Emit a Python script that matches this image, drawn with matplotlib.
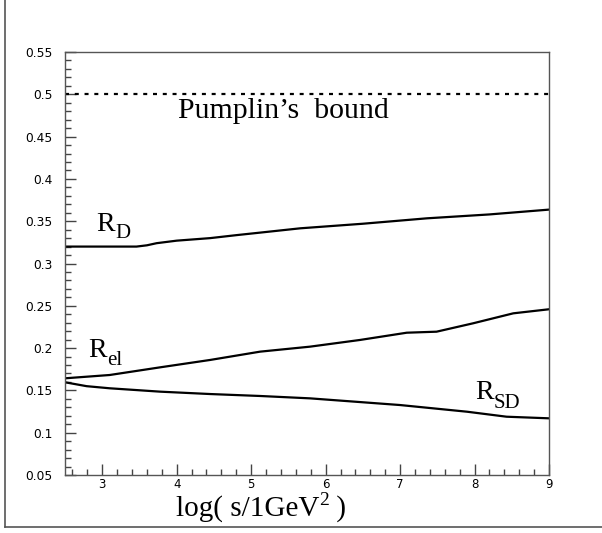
import matplotlib
matplotlib.use("Agg")
import matplotlib.pyplot as plt
from matplotlib.ticker import MultipleLocator, FixedLocator
from matplotlib.lines import Line2D

plt.rcParams['mathtext.fontset'] = 'stix'

# Data
rd_x = [2.5, 3.0, 3.46, 3.6, 3.73, 4.0, 4.45, 4.8, 5.12, 5.66, 6.5, 7.36, 8.2, 9.0]
rd_y = [0.320, 0.320, 0.320, 0.3215, 0.324, 0.327, 0.330, 0.3335, 0.3365, 0.3416, 0.347, 0.3534, 0.358, 0.3637]

rel_x = [2.5, 3.1, 3.78, 4.45, 5.12, 5.79, 6.46, 7.09, 7.49, 7.98, 8.52, 9.0]
rel_y = [0.1643, 0.1682, 0.1773, 0.186, 0.1958, 0.2017, 0.2096, 0.2182, 0.2194, 0.2293, 0.2411, 0.2459]

rsd_x = [2.5, 2.79, 3.1, 3.78, 4.45, 5.12, 5.79, 7.0, 7.9, 8.43, 9.0]
rsd_y = [0.1596, 0.155, 0.1525, 0.1485, 0.1457, 0.1434, 0.1406, 0.1327, 0.1248, 0.1189, 0.117]

bound_value = 0.5
x_range = [2.5, 9.0]
y_range = [0.05, 0.55]
y_ticks = [0.05, 0.1, 0.15, 0.2, 0.25, 0.3, 0.35, 0.4, 0.45, 0.5, 0.55]
y_ticklabels = ['0.05', '0.1', '0.15', '0.2', '0.25', '0.3', '0.35', '0.4', '0.45', '0.5', '0.55']
x_ticks = [3, 4, 5, 6, 7, 8, 9]
x_ticklabels = ['3', '4', '5', '6', '7', '8', '9']

W, H = 602, 533
fig = plt.figure(figsize=(W / 100, H / 100), dpi=100)
ax = fig.add_axes([65 / W, (H - 475) / H, (549 - 65) / W, (475 - 52) / H])

serif = 'Liberation Serif'
ax.plot(rd_x, rd_y, color='black', lw=1.6)
ax.plot(rel_x, rel_y, color='black', lw=1.6)
ax.plot(rsd_x, rsd_y, color='black', lw=1.6)
ax.plot(x_range, [bound_value, bound_value], color='black', lw=1.6,
        linestyle=(0, (1.8, 2.6)))

ax.set_xlim(*x_range)
ax.set_ylim(*y_range)
ax.xaxis.set_major_locator(FixedLocator(x_ticks))
ax.set_xticklabels(x_ticklabels)
ax.xaxis.set_minor_locator(MultipleLocator(0.2))
ax.yaxis.set_major_locator(FixedLocator(y_ticks))
ax.set_yticklabels(y_ticklabels)
ax.yaxis.set_minor_locator(MultipleLocator(0.01))

ax.tick_params(which='both', direction='in', top=False, right=False, color='#444444', width=1)
ax.tick_params(which='major', length=8)
ax.tick_params(which='minor', length=4)
ax.tick_params(axis='y', which='major', pad=9, labelsize=8.8)
ax.tick_params(axis='x', which='major', pad=2.5, labelsize=8.5)
for lab in ax.get_xticklabels() + ax.get_yticklabels():
    lab.set_fontfamily('DejaVu Sans')
for s in ax.spines.values():
    s.set_color('#555555')
    s.set_linewidth(1.0)


def rlabel(x, y, sub, sub_dy_px):
    ax.text(x, y, 'R', fontsize=20, family=serif, va='baseline', ha='left')
    ax.annotate(sub, xy=(x, y), xytext=(19 * 0.72, -sub_dy_px * 0.72),
                textcoords='offset points', fontsize=15, family=serif,
                va='baseline', ha='left')


rlabel(2.916, 0.3388, 'D', 7)
rlabel(2.813, 0.1891, 'el', 8)
rlabel(8.006, 0.1395, 'SD', 9)
ax.text(4.018, 0.4716, 'Pumplin\u2019s  bound', fontsize=21.5, family=serif, va='baseline', ha='left')

# x-axis title built from plain text pieces with a raised "2"
xl = fig.text(176 / W, (H - 516) / H, 'log( s/1GeV', fontsize=21, family=serif,
              va='baseline', ha='left')
fig.canvas.draw()
bb = xl.get_window_extent()
sup = fig.text(bb.x1 / W, (H - 505) / H, '2', fontsize=14, family=serif,
               va='baseline', ha='left')
fig.canvas.draw()
bb2 = sup.get_window_extent()
fig.text(bb2.x1 / W, (H - 516) / H, ' )', fontsize=21, family=serif,
         va='baseline', ha='left')

# outer frame (left and bottom)
fig.add_artist(Line2D([5 / W, 5 / W], [(H - 527) / H, 1.0], transform=fig.transFigure,
                      color='#555555', lw=1.2))
fig.add_artist(Line2D([5 / W, 1.0], [(H - 527) / H, (H - 527) / H], transform=fig.transFigure,
                      color='#555555', lw=1.2))

fig.savefig('out.png', dpi=100)
